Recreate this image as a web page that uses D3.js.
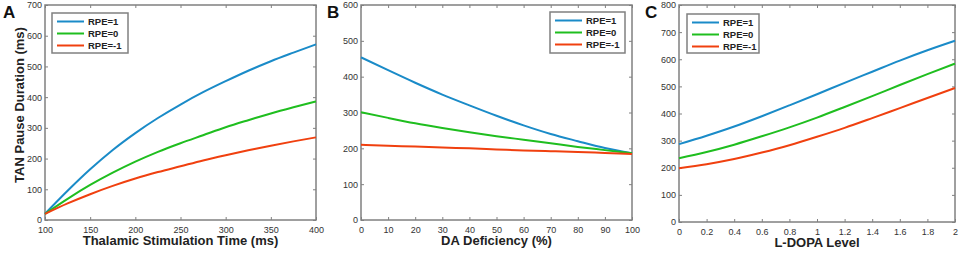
<!DOCTYPE html>
<html><head><meta charset="utf-8">
<script src="https://cdn.jsdelivr.net/npm/d3@7"></script>
<style>body{margin:0;background:#fff;} svg{display:block;}</style>
</head><body>
<svg id="c" width="963" height="255"></svg>
<script>
const seriesNames = ["RPE=1","RPE=0","RPE=-1"];
const colors = ["#1a8bc8","#1fbe1f","#f0400f"];

const xA = [100,125,150,175,200,225,250,275,300,325,350,375,400];
const aBlue  = [20,95,165,228,283,332,376,416,452,486,517,545,572];
const aGreen = [20,69,114,154,190,222,250,276,302,325,347,367,386];
const aRed   = [20,54,84,111,135,156,175,194,211,227,242,256,269];
const xTicksA = [100,150,200,250,300,350,400];
const yTicksA = [0,100,200,300,400,500,600,700];

const xB = [0,10,20,30,40,50,60,70,80,90,100];
const bBlue  = [454,418,383,350,320,291,264,240,220,201,186];
const bGreen = [301,285,270,257,245,234,224,214,204,195,186];
const bRed   = [210,207,205,202,200,197,194,192,190,187,184];
const xTicksB = [0,10,20,30,40,50,60,70,80,90,100];
const yTicksB = [0,100,200,300,400,500,600];

const xC = [0,0.2,0.4,0.6,0.8,1.0,1.2,1.4,1.6,1.8,2.0];
const cBlue  = [287,318,352,390,430,471,513,554,595,633,668];
const cGreen = [235,258,285,316,349,385,424,464,505,545,584];
const cRed   = [198,213,232,256,283,314,347,383,420,457,494];
const xTicksC = [0,0.2,0.4,0.6,0.8,1,1.2,1.4,1.6,1.8,2];
const yTicksC = [0,100,200,300,400,500,600,700,800];

const svg = d3.select("#c");
const font = "Arial, 'Liberation Sans', sans-serif";

const panels = [
  {letter:"A", box:[45,316,5,220], xd:[100,400], yd:[0,700], x:xA, ys:[aBlue,aGreen,aRed], xt:xTicksA, yt:yTicksA,
   xlabel:"Thalamic Stimulation Time (ms)", ylabel:"TAN Pause Duration (ms)", leg:[52,128,13,53], lx:3},
  {letter:"B", box:[361,632,5,220], xd:[0,100], yd:[0,600], x:xB, ys:[bBlue,bGreen,bRed], xt:xTicksB, yt:yTicksB,
   xlabel:"DA Deficiency (%)", ylabel:null, leg:[550,625,12,53], lx:327},
  {letter:"C", box:[679,955,5,222], xd:[0,2], yd:[0,800], x:xC, ys:[cBlue,cGreen,cRed], xt:xTicksC, yt:yTicksC,
   xlabel:"L-DOPA Level", ylabel:null, leg:[687,759,14,53], lx:645}
];

panels.forEach(p => {
  const [l,r,t,b] = p.box;
  const x = d3.scaleLinear().domain(p.xd).range([l,r]);
  const y = d3.scaleLinear().domain(p.yd).range([b,t]);
  const g = svg.append("g");
  const axisColor = "#808080";
  g.append("rect").attr("x",l).attr("y",t).attr("width",r-l).attr("height",b-t)
    .attr("fill","none").attr("stroke",axisColor).attr("stroke-width",1.5);
  const xb = d3.axisBottom(x).tickValues(p.xt).tickSizeInner(-3).tickSizeOuter(0).tickPadding(6.5).tickFormat(d3.format("~g"));
  const ax = g.append("g").attr("transform",`translate(0,${b})`).call(xb);
  const xtop = d3.axisTop(x).tickValues(p.xt).tickSizeInner(-3).tickSizeOuter(0).tickFormat("");
  const axt = g.append("g").attr("transform",`translate(0,${t})`).call(xtop);
  const yl = d3.axisLeft(y).tickValues(p.yt).tickSizeInner(-3).tickSizeOuter(0).tickPadding(3);
  const ay = g.append("g").attr("transform",`translate(${l},0)`).call(yl);
  const yr = d3.axisRight(y).tickValues(p.yt).tickSizeInner(-3).tickSizeOuter(0).tickFormat("");
  const ayr = g.append("g").attr("transform",`translate(${r},0)`).call(yr);
  [ax,axt,ay,ayr].forEach(a => {
    a.select(".domain").remove();
    a.selectAll(".tick line").attr("stroke",axisColor).attr("stroke-width",1);
    a.selectAll(".tick text").attr("fill","#333").style("font-family",font).style("font-size","9px");
  });
  const line = d3.line().x((d,i)=>x(p.x[i])).y(d=>y(d)).curve(d3.curveMonotoneX);
  p.ys.forEach((s,i) => {
    g.append("path").datum(s).attr("d",line).attr("fill","none")
      .attr("stroke",colors[i]).attr("stroke-width",2);
  });
  const [ll,lr,lt,lb] = p.leg;
  g.append("rect").attr("x",ll).attr("y",lt).attr("width",lr-ll).attr("height",lb-lt)
    .attr("fill","#fff").attr("stroke",axisColor).attr("stroke-width",1.5);
  seriesNames.forEach((n,i) => {
    const yy = lt + 8.5 + i*12;
    g.append("line").attr("x1",ll+5).attr("x2",ll+32).attr("y1",yy).attr("y2",yy)
      .attr("stroke",colors[i]).attr("stroke-width",2);
    g.append("text").attr("x",ll+36).attr("y",yy+3.5).text(n)
      .style("font-family",font).style("font-size","9.5px").style("font-weight","bold").attr("fill","#222");
  });
  g.append("text").attr("x",(l+r)/2).attr("y",b+25).attr("text-anchor","middle").text(p.xlabel)
    .style("font-family",font).style("font-size","13px").style("font-weight","bold").attr("fill","#222");
  if (p.ylabel) {
    g.append("text").attr("transform",`translate(24,105) rotate(-90)`).attr("text-anchor","middle").text(p.ylabel)
      .style("font-family",font).style("font-size","13px").style("font-weight","bold").attr("fill","#222");
  }
  g.append("text").attr("x",p.lx).attr("y",18).text(p.letter)
    .style("font-family",font).style("font-size","17px").style("font-weight","bold").attr("fill","#111");
});
</script>
</body></html>
